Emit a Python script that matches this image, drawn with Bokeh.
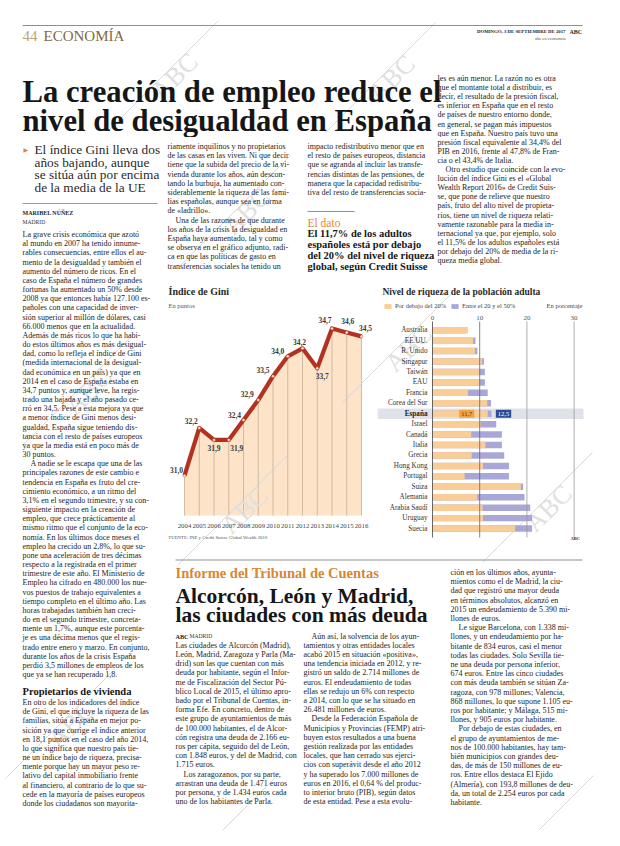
import math
from bokeh.plotting import figure
from bokeh.models import Range1d, Label, Legend, LegendItem
from bokeh.layouts import column, row
from bokeh.embed import file_html
from bokeh.resources import INLINE
from bokeh.core.properties import value

SERIF = "Liberation Serif"
INK = "#1e1e1e"

# ---------------- data ----------------
gini_years = [2004, 2005, 2006, 2007, 2008, 2009, 2010, 2011, 2012, 2013, 2014, 2015, 2016]
gini_values = [31.0, 32.2, 31.9, 31.9, 32.4, 32.9, 33.5, 34.0, 34.2, 33.7, 34.7, 34.6, 34.5]
gini_base = 30.0

countries = ["Australia", "EE.UU.", "R. Unido", "Singapur", "Taiwán", "EAU", "Francia",
             "Corea del Sur", "España", "Israel", "Canadá", "Italia", "Grecia", "Hong Kong",
             "Portugal", "Suiza", "Alemania", "Arabia Saudí", "Uruguay", "Suecia"]
below_20 = [7.5, 8.6, 9.0, 10.5, 10.0, 10.0, 7.5, 11.6, 11.7, 10.2, 8.2, 11.2, 8.3, 10.7,
            6.8, 18.7, 9.5, 10.6, 10.7, 17.5]
between_20_50 = [7.0, 9.1, 9.5, 10.9, 11.1, 11.1, 11.7, 12.4, 12.5, 13.5, 14.7, 14.7, 15.2,
                 16.2, 16.2, 19.2, 19.5, 20.7, 21.1, 21.1]
wealth_ticks = [0, 10, 20, 30]
highlight = "España"

# label placement (pixels) for the Gini values
gini_dx = [-8, -8, 0, 8, -9, -11, -10, -10, -3, 5, -7, 1, 4]
gini_dy = [-6, -7, 8, 8, -5, -6, -6, -5, -6, 8, -8, -11, -8]

# watermark centres on the page (pixels)
watermarks = [(182, 84), (399, 86), (254, 219), (96, 399), (416, 356), (252, 518),
              (556, 516), (79, 732), (244, 836), (557, 839)]
WM_HALF = 29


def fmt(v):
    return f"{v:.1f}".replace(".", ",")


def blank(width, height, xr, yr, bg="white"):
    p = figure(width=width, height=height, x_range=xr, y_range=yr,
               toolbar_location=None, output_backend="svg", min_border=0,
               x_axis_location=None, y_axis_location=None,
               background_fill_color=bg, border_fill_color=bg)
    p.grid.visible = False
    p.outline_line_color = None
    return p


def txt(p, x, y, s, size, color=INK, style="normal", align="left", font=SERIF):
    p.text(x=[x], y=[y], text=[s], text_font=value(font), text_font_size=f"{size}px",
           text_color=color, text_font_style=style, text_align=align,
           text_baseline="middle")


def draw_watermarks(p, x0, x1, y0, y1, fx=lambda v: v, fy=lambda v: v):
    for (cx, cy) in watermarks:
        if x0 - 60 <= cx <= x1 + 60 and y0 - 60 <= cy <= y1 + 60:
            p.segment(x0=[fx(cx - 66)], y0=[fy(cy + 54)], x1=[fx(cx + 44)], y1=[fy(cy - 56)],
                      line_color="#d0d0d0", line_width=0.8)
        inside = (x0 + WM_HALF <= cx <= x1 - WM_HALF) and (y0 + WM_HALF <= cy <= y1 - WM_HALF)
        if inside:
            p.text(x=[fx(cx)], y=[fy(cy)], text=["ABC"], angle=math.pi / 4,
                   text_font=value(SERIF), text_font_size="26px", text_color="#e0e0e0",
                   text_align="center", text_baseline="middle")


# ---------------- page figures (data coords = page pixels) ----------------
header = blank(604, 137, Range1d(8, 612), Range1d(145, 8))
left = blank(162, 693, Range1d(8, 170), Range1d(838, 145))
mid = blank(442, 145, Range1d(170, 612), Range1d(290, 145))
bottom = blank(442, 283, Range1d(170, 612), Range1d(838, 555))
pages = [(header, 8, 145, 8, 612), (left, 145, 838, 8, 170), (mid, 145, 290, 170, 612),
         (bottom, 555, 838, 170, 612)]
for (p, ya, yb, xa, xb) in pages:
    draw_watermarks(p, xa, xb, ya, yb)


def block(lines, x, y0, pitch, size=8, color=INK, style="normal", indent=8):
    groups = {}
    for i, ln in enumerate(lines):
        y = y0 + i * pitch
        ind = ln.startswith("\t")
        xx = x + (indent if ind else 0)
        for (p, ya, yb, xa, xb) in pages:
            if ya <= y < yb and xa <= x < xb:
                g = groups.setdefault(id(p), (p, [], [], []))
                g[1].append(xx)
                g[2].append(y)
                g[3].append(ln.lstrip("\t"))
                break
    for p, xs, ys, ts in groups.values():
        p.text(x=xs, y=ys, text=ts, text_font=value(SERIF), text_font_size=f"{size}px",
               text_color=color, text_font_style=style, text_align="left",
               text_baseline="middle")


# header
header.segment(x0=[30], y0=[33], x1=[590], y1=[33], line_color="#8f8f8f", line_width=1.2)
txt(header, 30, 43, "44", 15, color="#b7a57c")
txt(header, 51, 43, "ECONOMÍA", 15, color="#7f6a44")
txt(header, 573, 39, "DOMINGO, 3 DE SEPTIEMBRE DE 2017", 4.8, style="bold", align="right")
txt(header, 577, 39, "ABC", 6, style="bold")
txt(header, 573, 46, "abc.es/economia", 4.6, color="#555555", align="right")
txt(header, 30, 99, "La creación de empleo reduce el", 30.7, color="#161616", style="bold")
txt(header, 30, 128, "nivel de desigualdad en España", 30.7, color="#161616", style="bold")

right_col = [
    "les es aún menor. La razón no es otra",
    "que el montante total a distribuir, es",
    "decir, el resultado de la presión fiscal,",
    "es inferior en España que en el resto",
    "de países de nuestro entorno donde,",
    "en general, se pagan más impuestos",
    "que en España. Nuestro país tuvo una",
    "presión fiscal equivalente al 34,4% del",
    "PIB en 2016, frente al 47,8% de Fran-",
    "cia o el 43,4% de Italia.",
    "\tOtro estudio que coincide con la evo-",
    "lución del índice Gini es el «Global",
    "Wealth Report 2016» de Credit Suis-",
    "se, que pone de relieve que nuestro",
    "país, fruto del alto nivel de propieta-",
    "rios, tiene un nivel de riqueza relati-",
    "vamente razonable para la media in-",
    "ternacional ya que, por ejemplo, solo",
    "el 11,5% de los adultos españoles está",
    "por debajo del 20% de media de la ri-",
    "queza media global.",
]
block(right_col, 445, 86, 9.1)

col_b = [
    "riamente inquilinos y no propietarios",
    "de las casas en las viven. Ni que decir",
    "tiene que la subida del precio de la vi-",
    "vienda durante los años, aún descon-",
    "tando la burbuja, ha aumentado con-",
    "siderablemente la riqueza de las fami-",
    "lias españolas, aunque sea en forma",
    "de «ladrillo».",
    "\tUna de las razones de que durante",
    "los años de la crisis la desigualdad en",
    "España haya aumentado, tal y como",
    "se observa en el gráfico adjunto, radi-",
    "ca en que las políticas de gasto en",
    "transferencias sociales ha tenido un",
]
block(col_b, 175, 154, 9.2)

col_c = [
    "impacto redistributivo menor que en",
    "el resto de países europeos, distancia",
    "que se agranda al incluir las transfe-",
    "rencias distintas de las pensiones, de",
    "manera que la capacidad redistribu-",
    "tiva del resto de transferencias socia-",
]
block(col_c, 315, 154, 9.2)
mid.segment(x0=[315], y0=[219], x1=[362], y1=[219], line_color="#8f8f8f", line_width=1.2)
txt(mid, 315, 230, "El dato", 11.5, color="#e08a30")
block(["El 11,7% de los adultos", "españoles está por debajo",
       "del 20% del nivel de riqueza", "global, según Credit Suisse"],
      315, 241, 11, size=10.5, style="bold", color="#161616")

# left column
sub = ["El índice Gini lleva dos", "años bajando, aunque", "se sitúa aún por encima",
       "de la media de la UE"]
block(sub, 42, 157, 12.5, size=13.3, color="#2a2a2a")
txt(left, 31, 157, "▶", 6, color="#e0813a", font="DejaVu Sans")
left.segment(x0=[30], y0=[211], x1=[165], y1=[211], line_color="#9a9a9a", line_width=1)
txt(left, 30, 220, "MARIBEL NÚÑEZ", 6, style="bold")
txt(left, 30, 229, "MADRID", 5.6, color="#333333")

left_1 = [
    "La grave crisis económica que azotó",
    "al mundo en 2007 ha tenido innume-",
    "rables consecuencias, entre ellos el au-",
    "mento de la desigualdad y también el",
    "aumento del número de ricos. En el",
    "caso de España el número de grandes",
    "fortunas ha aumentado un 50% desde",
    "2008 ya que entonces había 127.100 es-",
    "pañoles con una capacidad de inver-",
    "sión superior al millón de dólares, casi",
    "66.000 menos que en la actualidad.",
    "Además de más ricos lo que ha habi-",
    "do estos últimos años es más desigual-",
    "dad, como lo refleja el índice de Gini",
    "(medida internacional de la desigual-",
    "dad económica en un país) ya que en",
    "2014 en el caso de España estaba en",
    "34,7 puntos y, aunque leve, ha regis-",
    "trado una bajada y el año pasado ce-",
    "rró en 34,5. Pese a esta mejora ya que",
    "a menor índice de Gini menos desi-",
    "gualdad, España sigue teniendo dis-",
    "tancia con el resto de países europeos",
    "ya que la media está en poco más de",
    "30 puntos.",
    "\tA nadie se le escapa que una de las",
    "principales razones de este cambio e",
    "tendencia en España es fruto del cre-",
    "cimiento económico, a un ritmo del",
    "3,1% en el segundo trimestre, y su con-",
    "siguiente impacto en la creación de",
    "empleo, que crece prácticamente al",
    "mismo ritmo que el conjunto de la eco-",
    "nomía. En los últimos doce meses el",
    "empleo ha crecido un 2,8%, lo que su-",
    "pone una aceleración de tres décimas",
    "respecto a la registrada en el primer",
    "trimestre de este año. El Ministerio de",
    "Empleo ha cifrado en 480.000 los nue-",
    "vos puestos de trabajo equivalentes a",
    "tiempo completo en el último año. Las",
    "horas trabajadas también han creci-",
    "do en el segundo trimestre, concreta-",
    "mente un 1,7%, aunque este porcenta-",
    "je es una décima menos que el regis-",
    "trado entre enero y marzo. En conjunto,",
    "durante los años de la crisis España",
    "perdió 3,5 millones de empleos de los",
    "que ya se han recuperado 1,8.",
]
block(left_1, 30, 242, 9.17)
txt(left, 30, 699, "Propietarios de vivienda", 10.5, style="bold", color="#161616")
left_2 = [
    "En otro de los indicadores del índice",
    "de Gini, el que incluye la riqueza de las",
    "familias, sitúa a España en mejor po-",
    "sición ya que corrige el índice anterior",
    "en 18,1 puntos en el caso del año 2014,",
    "lo que significa que nuestro país tie-",
    "ne un índice bajo de riqueza, precisa-",
    "mente porque hay un mayor peso re-",
    "lativo del capital inmobiliario frente",
    "al financiero, al contrario de lo que su-",
    "cede en la mayoría de países europeos",
    "donde los ciudadanos son mayorita-",
]
block(left_2, 30, 710, 9.17)

# bottom article
bottom.segment(x0=[183], y0=[567.5], x1=[590], y1=[567.5], line_color="#8f8f8f", line_width=1)
txt(bottom, 183, 580, "Informe del Tribunal de Cuentas", 14.5, color="#d98633", style="bold")
txt(bottom, 183, 603, "Alcorcón, León y Madrid,", 21.5, color="#161616", style="bold")
txt(bottom, 183, 622, "las ciudades con más deuda", 21.5, color="#161616", style="bold")
txt(bottom, 183, 643.6, "ABC", 6.2, style="bold")
txt(bottom, 197, 643.6, "MADRID", 5.6, color="#333333")

b_col1 = [
    "Las ciudades de Alcorcón (Madrid),",
    "León, Madrid, Zaragoza y Parla (Ma-",
    "drid) son las que cuentan con más",
    "deuda por habitante, según el Infor-",
    "me de Fiscalización del Sector Pú-",
    "blico Local de 2015, el último apro-",
    "bado por el Tribunal de Cuentas, in-",
    "forma Efe. En concreto, dentro de",
    "este grupo de ayuntamientos de más",
    "de 100.000 habitantes, el de Alcor-",
    "cón registra una deuda de 2.166 eu-",
    "ros per cápita, seguido del de León,",
    "con 1.848 euros, y del de Madrid, con",
    "1.715 euros.",
    "\tLos zaragozanos, por su parte,",
    "arrastran una deuda de 1.471 euros",
    "por persona, y de 1.434 euros cada",
    "uno de los habitantes de Parla.",
]
block(b_col1, 183, 652.8, 9.2)
b_col2 = [
    "\tAún así, la solvencia de los ayun-",
    "tamientos y otras entidades locales",
    "acabó 2015 en situación «positiva»,",
    "una tendencia iniciada en 2012, y re-",
    "gistró un saldo de 2.714 millones de",
    "euros. El endeudamiento de todas",
    "ellas se redujo un 6% con respecto",
    "a 2014, con lo que se ha situado en",
    "26.481 millones de euros.",
    "\tDesde la Federación Española de",
    "Municipios y Provincias (FEMP) atri-",
    "buyen estos resultados a una buena",
    "gestión realizada por las entidades",
    "locales, que han cerrado sus ejerci-",
    "cios con superávit desde el año 2012",
    "y ha superado los 7.000 millones de",
    "euros en 2016, el 0,64 % del produc-",
    "to interior bruto (PIB), según datos",
    "de esta entidad. Pese a esta evolu-",
]
block(b_col2, 311, 643.6, 9.2)
b_col3 = [
    "ción en los últimos años, ayunta-",
    "mientos como el de Madrid, la ciu-",
    "dad que registró una mayor deuda",
    "en términos absolutos, alcanzó en",
    "2015 un endeudamiento de 5.390 mi-",
    "llones de euros.",
    "\tLe sigue Barcelona, con 1.338 mi-",
    "llones, y un endeudamiento por ha-",
    "bitante de 834 euros, casi el menor",
    "todas las ciudades. Solo Sevilla tie-",
    "ne una deuda por persona inferior,",
    "674 euros. Entre las cinco ciudades",
    "con más deuda también se sitúan Za-",
    "ragoza, con 978 millones; Valencia,",
    "868 millones, lo que supone 1.105 eu-",
    "ros por habitante; y Málaga, 515 mi-",
    "llones, y 905 euros por habitante.",
    "\tPor debajo de estas ciudades, en",
    "el grupo de ayuntamientos de me-",
    "nos de 100.000 habitantes, hay tam-",
    "bién municipios con grandes deu-",
    "das, de más de 150 millones de eu-",
    "ros. Entre ellos destaca El Ejido",
    "(Almería), con 193,8 millones de deu-",
    "da, un total de 2.254 euros por cada",
    "habitante.",
]
block(b_col3, 458, 580, 9.2)

# ---------------- Gini line chart ----------------
G_PX_YEAR = 14.75
G_PX_UNIT = 39.8
g_x0 = gini_years[0] - (192 - 170) / G_PX_YEAR
g_x1 = g_x0 + 215 / G_PX_YEAR
g_y1 = gini_base + (523 - 290) / G_PX_UNIT
g_y0 = gini_base - (555 - 523) / G_PX_UNIT
gini = blank(215, 265, Range1d(g_x0, g_x1), Range1d(g_y0, g_y1))


def gx(px):
    return g_x0 + (px - 170) / G_PX_YEAR


def gy(py):
    return g_y1 - (py - 290) / G_PX_UNIT


n = len(gini_years)
gini.varea(x=gini_years, y1=[gini_base] * n, y2=gini_values, fill_color="#fde4c8")
gini.segment(x0=gini_years, y0=[gini_base] * n, x1=gini_years, y1=gini_values,
             line_color="#c4ae98", line_width=0.8)
draw_watermarks(gini, 170, 385, 290, 555, gx, gy)
gini.line(gini_years, gini_values, line_color="#b3321f", line_width=4.2, line_join="round")
gini.scatter(gini_years, gini_values, size=3, fill_color="#f7e6da", line_color="#b3321f",
             line_width=0.4)
gini.text(x=gini_years, y=gini_values, text=[fmt(v) for v in gini_values],
          x_offset=gini_dx, y_offset=gini_dy, text_font=value(SERIF), text_font_size="7.5px",
          text_font_style="bold", text_color="#3a3a3a", text_align="center",
          text_baseline="middle")
gini.text(x=gini_years, y=[gini_base] * n, text=[str(y) for y in gini_years], y_offset=10,
          text_font=value(SERIF), text_font_size="6.8px", text_color="#444444",
          text_align="center", text_baseline="middle")
txt(gini, gx(176), gy(299), "Índice de Gini", 10, style="bold", color="#2a2a2a")
txt(gini, gx(176), gy(313), "En puntos", 6.5, color="#555555")
txt(gini, gx(176), gy(545), "FUENTE: INE y Credit Suisse Global Wealth 2016", 4.8,
    color="#555555")

# ---------------- Wealth bar chart ----------------
W_PX_UNIT = 4.72
W_PX_ROW = 10.44


def wx(px):
    return (px - 440) / W_PX_UNIT


def wy(py):
    return (py - 337.7) / W_PX_ROW


wealth = blank(227, 265, Range1d(wx(385), wx(612)), Range1d(wy(555), wy(290)))
idx = list(range(len(countries)))
si = countries.index(highlight)
wealth.hbar(y=[si], left=[wx(385)], right=[wx(591)], height=1.0, fill_color="#dfe3e9",
            line_color=None)
draw_watermarks(wealth, 385, 612, 290, 555, wx, wy)
r_mid = wealth.hbar(y=idx, left=0, right=between_20_50, height=0.62, fill_color="#a9a7d8",
                    line_color=None)
r_low = wealth.hbar(y=idx, left=0, right=below_20, height=0.62, fill_color="#fbcd96",
                    line_color=None)
grid_colors = ["#444444", "#666666", "#9a9a9a", "#9a9a9a"]
wealth.segment(x0=wealth_ticks, y0=[wy(329)] * 4, x1=wealth_ticks, y1=[wy(545)] * 4,
               line_color=grid_colors, line_width=0.8)
wealth.text(x=wealth_ticks, y=[wy(325)] * 4, text=[str(t) for t in wealth_ticks],
            text_font=value(SERIF), text_font_size="7px", text_color="#555555",
            text_align="center", text_baseline="middle")
others = [i for i in idx if i != si]
wealth.text(x=[wx(435)] * len(others), y=others, text=[countries[i] for i in others],
            text_font=value(SERIF), text_font_size="7.2px", text_color="#333333",
            text_align="right", text_baseline="middle")
wealth.text(x=[wx(435)], y=[si], text=[countries[si]], text_font=value(SERIF),
            text_font_size="7.2px", text_font_style="bold", text_color="#222222",
            text_align="right", text_baseline="middle")

lab_low = Label(x=below_20[si], y=si, x_offset=-21, text=fmt(below_20[si]), text_font=SERIF,
                text_font_size="6.5px", text_color="#5a3508", text_align="center",
                text_baseline="middle", background_fill_color="#f2a23c")
lab_mid = Label(x=between_20_50[si], y=si, x_offset=12, text=fmt(between_20_50[si]),
                text_font=SERIF, text_font_size="6.5px", text_color="white",
                text_align="center", text_baseline="middle", background_fill_color="#2d4a95")
for lab in (lab_low, lab_mid):
    try:
        lab.padding = 2
    except Exception:
        pass
    wealth.add_layout(lab)

txt(wealth, wx(390), wy(299), "Nivel de riqueza de la población adulta", 9.5, style="bold",
    color="#2a2a2a")
txt(wealth, wx(590), wy(313), "En porcentaje", 6.5, color="#444444", align="right")
txt(wealth, wx(578), wy(546), "ABC", 4.5, style="bold")
legend = Legend(items=[LegendItem(label="Por debajo del 20%", renderers=[r_low]),
                       LegendItem(label="Entre el 20 y el 50%", renderers=[r_mid])],
                location=(6, 238), orientation="horizontal", label_text_font=SERIF,
                label_text_font_size="6.5px", label_text_color="#444444", glyph_width=9,
                glyph_height=6, label_standoff=3, spacing=4, padding=0, margin=0,
                border_line_color=None, background_fill_alpha=0, label_height=7)
wealth.add_layout(legend)

layout = column(header, row(left, column(mid, row(gini, wealth), bottom)))
open("out.html", "w").write(file_html(layout, INLINE))
